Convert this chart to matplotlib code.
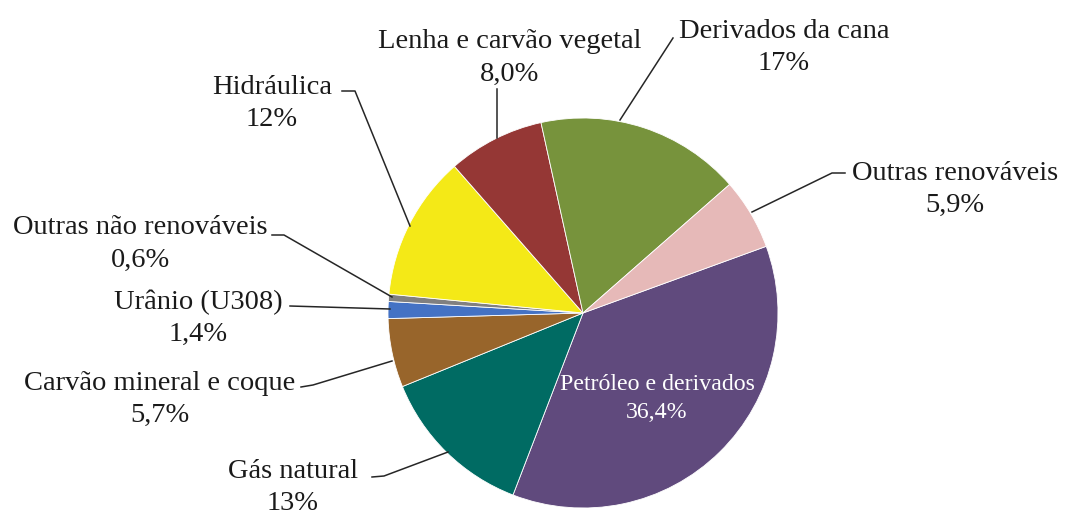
import matplotlib.pyplot as plt

plt.rcParams.update({
    'font.family': ['Liberation Serif', 'DejaVu Serif'],
})

# dados da matriz energética (%)
fontes = ['Petróleo e derivados', 'Gás natural', 'Carvão mineral e coque',
          'Urânio (U308)', 'Outras não renováveis', 'Hidráulica',
          'Lenha e carvão vegetal', 'Derivados da cana', 'Outras renováveis']
valores = [36.4, 13, 5.7, 1.4, 0.6, 12, 8.0, 17, 5.9]
rotulos_pct = ['36,4%', '13%', '5,7%', '1,4%', '0,6%', '12%', '8,0%', '17%', '5,9%']
cores = ['#604A7D', '#006B63', '#98652B', '#4472C4', '#808080',
         '#F4E917', '#953735', '#77933C', '#E6B9B8']

W, H = 1067, 512
fig = plt.figure(figsize=(W / 100, H / 100), dpi=100)
ax = fig.add_axes([0, 0, 1, 1])
ax.set_xlim(0, W)
ax.set_ylim(0, H)
ax.set_aspect('equal')
ax.axis('off')

def py(y):
    # converte coordenada de pixel (topo) para o eixo
    return H - y

cx, cy, r = 583, py(313), 195
ax.pie(valores, colors=cores, startangle=20, counterclock=False,
       center=(cx, cy), radius=r, frame=True,
       wedgeprops={'linewidth': 0.6, 'edgecolor': 'white'})
ax.set_xlim(0, W)
ax.set_ylim(0, H)
ax.axis('off')

# posições dos rótulos (pixel) e linhas de chamada
posicoes = {
    'Petróleo e derivados': (657, 385),
    'Gás natural': (293, 471),
    'Carvão mineral e coque': (160, 383),
    'Urânio (U308)': (198, 302),
    'Outras não renováveis': (140, 228),
    'Hidráulica': (272, 87),
    'Lenha e carvão vegetal': (510, 42),
    'Derivados da cana': (784, 31),
    'Outras renováveis': (955, 173),
}
linhas = {
    'Gás natural': [(372, 477), (384, 476), (448, 452)],
    'Carvão mineral e coque': [(301, 387), (313, 385), (392, 361)],
    'Urânio (U308)': [(290, 306), (390, 309)],
    'Outras não renováveis': [(272, 235), (284, 235), (392, 297)],
    'Hidráulica': [(342, 91), (355, 91), (410, 226)],
    'Lenha e carvão vegetal': [(497, 89), (497, 138)],
    'Derivados da cana': [(673, 38), (620, 120)],
    'Outras renováveis': [(845, 173), (832, 173), (752, 212)],
}

for nome, pts in linhas.items():
    ax.plot([p[0] for p in pts], [py(p[1]) for p in pts],
            color='#262626', linewidth=1.1)

for nome, pct in zip(fontes, rotulos_pct):
    x, y = posicoes[nome]
    if nome == 'Petróleo e derivados':
        ax.text(x, py(y), nome, ha='center', va='center', fontsize=17.2, color='white')
        ax.text(x, py(y + 27), pct, ha='center', va='center', fontsize=17.2, color='white')
    else:
        ax.text(x, py(y), nome, ha='center', va='center', fontsize=20.5, color='#1a1a1a')
        ax.text(x, py(y + 32), pct, ha='center', va='center', fontsize=20.5, color='#1a1a1a')

fig.savefig('out.png', dpi=100)
